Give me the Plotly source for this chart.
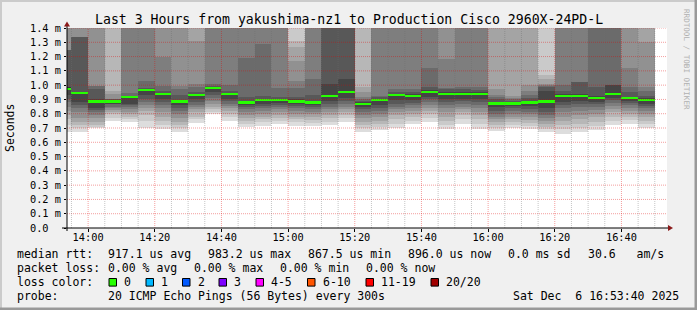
import plotly.graph_objects as go
import pandas as pd

# ---------------- data ----------------
HI = 1500  # ping values above the visible range (us)
bar_end = pd.date_range("2025-12-06 13:55:00", "2025-12-06 16:50:00", freq="5min")
median_us = [975, 943, 886, 886, 915, 966, 936, 886, 929, 983, 936, 879, 896, 896, 886, 879, 922, 950,
             867.5, 896, 929, 922, 950, 936, 936, 936, 872, 872, 879, 886, 922, 922, 908, 936, 908, 896]
# 20 sorted ping rtts per 5-minute step (us)
pings_us = [
    [670, 720, 760, 790, 820, 850, 880, 905, 930, 965, 985, 990, 1245, 1245, 1245, HI, HI, HI, HI, HI],
    [670, 700, 720, 745, 770, 810, 840, 860, 880, 940, 946, 950, 1334, 1334, 1334, HI, HI, HI, HI, HI],
    [700, 710, 724, 745, 770, 790, 810, 825, 842, 882, 890, 900, 975, 994, 994, HI, HI, HI, HI, HI],
    [748, 770, 795, 810, 825, 840, 850, 865, 870, 882, 890, 895, 900, 900, 900, 936, 959, HI, HI, HI],
    [743, 760, 775, 795, 810, 830, 845, 860, 870, 912, 918, 920, 925, 948, HI, HI, HI, HI, HI, HI],
    [700, 750, 790, 820, 840, 860, 880, 900, 930, 962, 970, 975, 980, 1030, HI, HI, HI, HI, HI, HI],
    [694, 720, 750, 780, 810, 840, 860, 880, 900, 932, 940, 945, 960, 994, 1194, HI, HI, HI, HI, HI],
    [670, 700, 720, 740, 770, 800, 820, 840, 860, 882, 890, 895, 930, 975, 994, HI, HI, HI, HI, HI],
    [734, 760, 780, 810, 830, 845, 860, 880, 900, 926, 932, 940, 950, 985, 1006, 1310, HI, HI, HI, HI],
    [795, 810, 830, 850, 870, 890, 910, 930, 950, 980, 986, 990, 995, 1010, HI, HI, HI, HI, HI, HI],
    [748, 775, 800, 820, 840, 855, 870, 890, 905, 932, 940, 945, 960, 1000, HI, HI, HI, HI, HI, HI],
    [710, 730, 750, 770, 790, 810, 830, 845, 860, 876, 882, 890, 920, 1187, HI, HI, HI, HI, HI, HI],
    [715, 740, 760, 780, 800, 820, 840, 855, 870, 892, 900, 905, 925, 1287, HI, HI, HI, HI, HI, HI],
    [730, 750, 770, 790, 810, 830, 845, 860, 875, 892, 900, 905, 920, 980, HI, HI, HI, HI, HI, HI],
    [715, 740, 760, 780, 800, 820, 840, 855, 870, 882, 890, 900, 920, 980, 1030, 1170, 1264, 1310, HI, HI],
    [715, 735, 755, 775, 795, 815, 830, 845, 860, 876, 882, 890, 930, 1040, HI, HI, HI, HI, HI, HI],
    [720, 745, 770, 790, 810, 830, 850, 870, 890, 918, 925, 1006, HI, HI, HI, HI, HI, HI, HI, HI],
    [740, 770, 790, 810, 830, 850, 870, 890, 910, 945, 955, 1040, HI, HI, HI, HI, HI, HI, HI, HI],
    [670, 700, 720, 740, 770, 790, 810, 830, 850, 865, 870, 880, 890, 905, 920, 950, 985, HI, HI, HI],
    [685, 710, 730, 750, 775, 800, 820, 840, 860, 892, 900, 905, 915, 924, HI, HI, HI, HI, HI, HI],
    [700, 730, 760, 790, 810, 830, 850, 870, 895, 926, 932, 940, 955, 971, HI, HI, HI, HI, HI, HI],
    [730, 750, 775, 800, 820, 840, 860, 875, 895, 918, 925, 935, 950, 975, HI, HI, HI, HI, HI, HI],
    [739, 770, 800, 820, 840, 860, 880, 900, 920, 945, 955, 965, 990, 1120, HI, HI, HI, HI, HI, HI],
    [694, 720, 750, 780, 810, 840, 860, 880, 900, 932, 940, 950, 975, 980, 1180, HI, HI, HI, HI, HI],
    [730, 760, 790, 810, 830, 850, 870, 890, 905, 932, 940, 950, 970, 990, HI, HI, HI, HI, HI, HI],
    [694, 730, 760, 790, 815, 840, 860, 880, 900, 932, 940, 950, 965, 990, HI, HI, HI, HI, HI, HI],
    [677, 700, 720, 740, 760, 780, 800, 820, 845, 868, 876, 885, 900, 915, 930, 971, HI, HI, HI, HI],
    [700, 720, 740, 760, 780, 800, 820, 840, 855, 868, 876, 880, 890, 900, 910, 924, HI, HI, HI, HI],
    [694, 715, 735, 755, 775, 795, 815, 835, 855, 876, 882, 890, 910, 930, 960, 999, HI, HI, HI, HI],
    [670, 690, 710, 730, 750, 770, 790, 810, 840, 882, 890, 960, 985, 995, 1000, 1010, 1040, 1070, HI, HI],
    [660, 690, 720, 750, 780, 810, 840, 860, 885, 918, 925, 935, 960, 1000, HI, HI, HI, HI, HI, HI],
    [670, 700, 730, 760, 790, 820, 845, 865, 890, 918, 925, 935, 1022, 1022, HI, HI, HI, HI, HI, HI],
    [685, 715, 745, 775, 800, 825, 845, 865, 885, 904, 912, 925, 990, HI, HI, HI, HI, HI, HI, HI],
    [720, 750, 780, 810, 835, 855, 875, 895, 910, 932, 940, 999, 999, HI, HI, HI, HI, HI, HI, HI],
    [730, 755, 780, 800, 820, 840, 860, 875, 890, 904, 912, 920, 950, 990, 1120, HI, HI, HI, HI, HI],
    [700, 725, 750, 775, 800, 820, 840, 855, 870, 892, 900, 910, 925, 960, 990, 1300, HI, HI, HI, HI],
]
x_range = ["2025-12-06 13:53:40", "2025-12-06 16:53:40"]
y_tickvals = [0.0, 0.1, 0.2, 0.3, 0.4, 0.5, 0.6, 0.7, 0.8, 0.9, 1.0, 1.1, 1.2, 1.3, 1.4]
y_ticktext = ["0.0\u00a0\u00a0", "0.1 m", "0.2 m", "0.3 m", "0.4 m", "0.5 m", "0.6 m", "0.7 m",
              "0.8 m", "0.9 m", "1.0 m", "1.1 m", "1.2 m", "1.3 m", "1.4 m"]
x_tickvals = pd.date_range("2025-12-06 14:00", "2025-12-06 16:40", freq="20min")
x_ticktext = ["14:00", "14:20", "14:40", "15:00", "15:20", "15:40", "16:00", "16:20", "16:40"]
minor_times = pd.date_range("2025-12-06 13:55", "2025-12-06 16:50", freq="5min")

loss_labels = ["0", "1", "2", "3", "4-5", "6-10", "11-19", "20/20"]
loss_colors = ["#26ff00", "#00b8ff", "#0059ff", "#7e00ff", "#ff00ff", "#ff5500", "#ff0000", "#a10000"]

title = "Last 3 Hours from yakushima-nz1 to Production Cisco 2960X-24PD-L"

# ---------------- geometry ----------------
FIG_W, FIG_H = 697, 310
L, T, W, H = 67, 28, 600, 200
MONO = "DejaVu Sans Mono"


def px(x):
    return (x - L) / W


def py(y):
    return (T + H - y) / H


centers = bar_end - pd.Timedelta(seconds=150)
fig = go.Figure()

# smoke bands: band k spans ping k .. ping (21-k)
n = 20
half = n // 2
for k in range(1, half + 1):
    g = int(190 / half * (half - k)) + 50
    col = "#%02x%02x%02x" % (g, g, g)
    base = [row[k - 1] / 1000 for row in pings_us]
    top = [row[n - k] / 1000 for row in pings_us]
    fig.add_trace(go.Bar(
        x=centers, base=base, y=[t - b for t, b in zip(top, base)],
        width=300000, marker=dict(color=col, line=dict(width=0)),
        hoverinfo="skip", showlegend=False))

# median
mw = 0.0075
fig.add_trace(go.Bar(
    x=centers, base=[m / 1000 - mw for m in median_us], y=[2 * mw] * len(median_us),
    width=300000, marker=dict(color=loss_colors[0], line=dict(width=0)),
    hoverinfo="skip", showlegend=False))

shapes = []
# grid (drawn above the smoke, like rrdtool)
for v in y_tickvals[1:]:
    shapes.append(dict(type="line", xref="x domain", yref="y", x0=0, x1=1, y0=v, y1=v,
                       line=dict(color="rgba(225,0,0,0.38)", width=1, dash="1px,1px"), layer="above"))
major_set = set(x_tickvals)
for t in minor_times:
    if t in major_set:
        continue
    shapes.append(dict(type="line", xref="x", yref="y domain", x0=t, x1=t, y0=0, y1=1,
                       line=dict(color="rgba(110,110,110,0.4)", width=1, dash="1px,1px"), layer="above"))
for t in x_tickvals:
    shapes.append(dict(type="line", xref="x", yref="y domain", x0=t, x1=t, y0=0, y1=1,
                       line=dict(color="rgba(225,0,0,0.38)", width=1, dash="1px,1px"), layer="above"))

# axes lines and arrows
shapes.append(dict(type="line", xref="paper", yref="paper", x0=px(62), x1=px(669), y0=py(228), y1=py(228),
                   line=dict(color="black", width=1), layer="above"))
shapes.append(dict(type="line", xref="paper", yref="paper", x0=px(67), x1=px(67), y0=py(231), y1=py(25),
                   line=dict(color="black", width=1), layer="above"))
shapes.append(dict(type="path", xref="paper", yref="paper",
                   path="M %f,%f L %f,%f L %f,%f Z" % (px(668), py(225), px(673), py(228), px(668), py(231)),
                   fillcolor="#8b1a1a", line=dict(width=0), layer="above"))
shapes.append(dict(type="path", xref="paper", yref="paper",
                   path="M %f,%f L %f,%f L %f,%f Z" % (px(64), py(26.5), px(67), py(21.5), px(70), py(26.5)),
                   fillcolor="#8b1a1a", line=dict(width=0), layer="above"))

# frame
shapes += [
    dict(type="rect", xref="paper", yref="paper", x0=px(0), x1=px(697), y0=py(0), y1=py(2),
         fillcolor="#cbcbcb", line=dict(width=0)),
    dict(type="rect", xref="paper", yref="paper", x0=px(0), x1=px(2), y0=py(0), y1=py(310),
         fillcolor="#cbcbcb", line=dict(width=0)),
    dict(type="rect", xref="paper", yref="paper", x0=px(0), x1=px(697), y0=py(307.5), y1=py(310),
         fillcolor="#999999", line=dict(width=0)),
    dict(type="rect", xref="paper", yref="paper", x0=px(694.5), x1=px(697), y0=py(0), y1=py(310),
         fillcolor="#999999", line=dict(width=0)),
]

annotations = []


def text(x, y, s, size=11.5, anchor="left", angle=0, color="black"):
    annotations.append(dict(x=px(x), y=py(y), xref="paper", yref="paper", text=s.replace(" ", "\u00a0"),
                            showarrow=False, xanchor=anchor, yanchor="middle", textangle=angle,
                            borderpad=0, font=dict(family=MONO, size=size, color=color)))


text(348.5, 19, title, size=13.2, anchor="center")
text(10, 128, "Seconds", size=11.5, anchor="center", angle=-90)
text(687, 59, "RRDTOOL / TOBI OETIKER", size=7.6, anchor="center", angle=90, color="#b0b0b0")

# legend rows
r1, r2, r3, r4 = 254, 268, 282.3, 296
text(16, r1, "median rtt:")
for xx, s in [(107, "917.1 us avg"), (207, "983.2 us max"), (307, "867.5 us min"),
              (407, "896.0 us now"), (507, "0.0 ms sd"), (587, "30.6   am/s")]:
    text(xx, r1, s)
text(16, r2, "packet loss:")
for xx, s in [(107, "0.00 % avg"), (193, "0.00 % max"), (279, "0.00 % min"), (365, "0.00 % now")]:
    text(xx, r2, s)
text(16, r3, "loss color:")
box_x = [109, 146, 182.5, 219, 256, 307.5, 366, 431]
for bx, lab, col in zip(box_x, loss_labels, loss_colors):
    shapes.append(dict(type="rect", xref="paper", yref="paper", x0=px(bx), x1=px(bx + 7.5),
                       y0=py(r3 - 3.8), y1=py(r3 + 3.8), fillcolor=col,
                       line=dict(color="black", width=1)))
    text(bx + 14, r3, lab)
text(16, r4, "probe:")
text(107, r4, "20 ICMP Echo Pings (56 Bytes) every 300s")
text(680, r4, "Sat Dec  6 16:53:40 2025", anchor="right")

fig.update_layout(
    width=FIG_W, height=FIG_H,
    margin=dict(l=L, r=FIG_W - L - W, t=T, b=FIG_H - T - H, pad=0),
    paper_bgcolor="#f0f0f0", plot_bgcolor="#ffffff",
    barmode="overlay", bargap=0, showlegend=False,
    shapes=shapes, annotations=annotations,
    xaxis=dict(type="date", range=x_range, showgrid=False, zeroline=False, showline=False,
               tickvals=list(x_tickvals), ticktext=x_ticktext, ticks="outside", ticklen=3,
               tickcolor="black", tickfont=dict(family=MONO, size=10.3, color="black"),
               ticklabelstandoff=-3, fixedrange=True),
    yaxis=dict(range=[0, 1.4], showgrid=False, zeroline=False, showline=False,
               tickvals=y_tickvals, ticktext=y_ticktext, ticks="outside", ticklen=2,
               tickcolor="black", tickfont=dict(family=MONO, size=10.3, color="black"),
               ticklabelstandoff=1, fixedrange=True),
)

fig.write_html("out.html", config={"displayModeBar": False})
